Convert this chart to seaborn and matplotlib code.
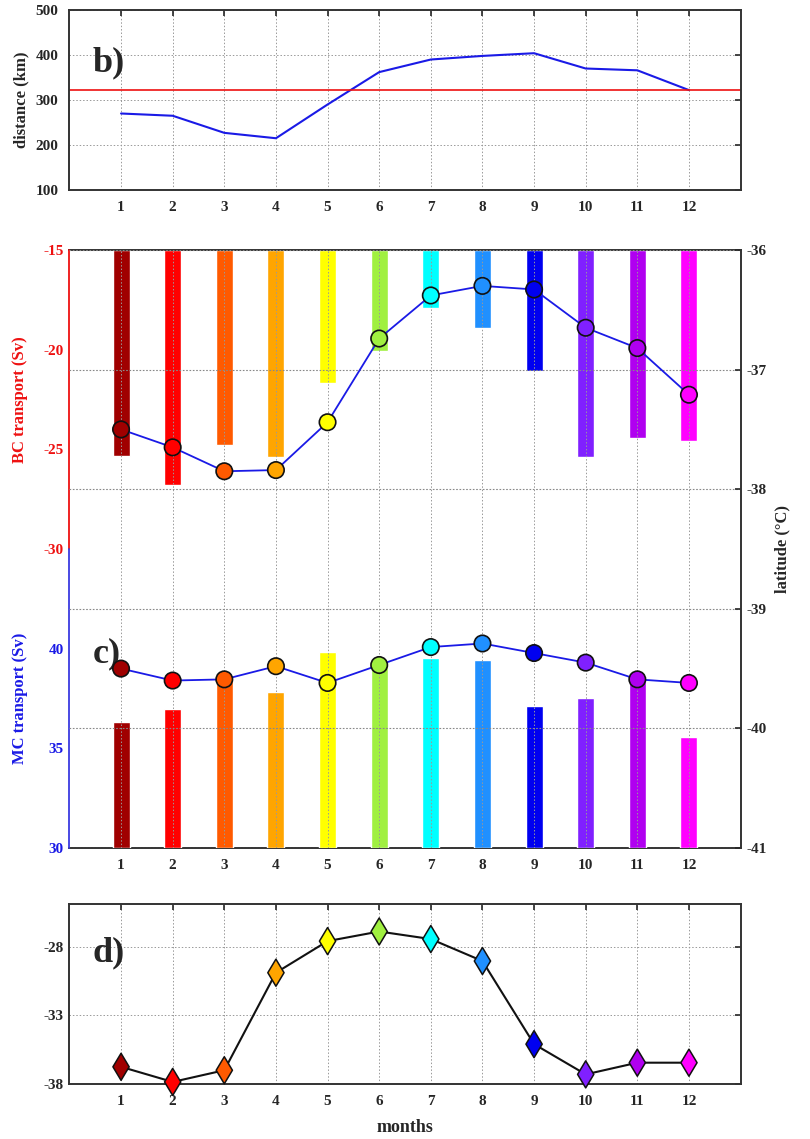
import numpy as np
import matplotlib
matplotlib.use("Agg")
import matplotlib.pyplot as plt
import seaborn as sns
import pandas as pd

# data
months = list(range(1, 13))
month_colors = ["#a00000", "#ff0000", "#ff5a00", "#ffa500", "#ffff00", "#a0f040",
                "#00ffff", "#2090ff", "#0000f0", "#8020ff", "#b000f0", "#ff00ff"]

distance_km = [270, 265, 227, 215, 290, 362, 390, 398, 404, 370, 366, 322]
distance_ref = 322

bc_transport = [-25.35, -26.8, -24.8, -25.4, -21.65, -20.05, -17.9, -18.9, -21.05, -25.4, -24.45, -24.6]
mc_transport = [36.3, 36.95, 38.65, 37.85, 39.85, 39.15, 39.55, 39.45, 37.1, 37.5, 38.5, 35.55]
bc_latitude = [-37.50, -37.65, -37.85, -37.84, -37.44, -36.74, -36.38, -36.30, -36.33, -36.65, -36.82, -37.21]
mc_latitude = [-39.50, -39.60, -39.59, -39.48, -39.62, -39.47, -39.32, -39.29, -39.37, -39.45, -39.59, -39.62]

panel_d = [-36.75, -37.85, -37.0, -29.9, -27.6, -26.9, -27.45, -29.05, -35.1, -37.3, -36.45, -36.45]

sns.set_style("white")
plt.rcParams['font.family'] = ['Liberation Serif', 'DejaVu Serif']
plt.rcParams['font.weight'] = 'bold'
plt.rcParams['axes.unicode_minus'] = False
plt.rcParams['xtick.direction'] = 'in'
plt.rcParams['ytick.direction'] = 'in'

FS = 11
RED = "#ee1111"
BLUE = "#1a1ae6"
grid_kw = dict(color="#999999", linestyle=(0, (1.5, 2)), linewidth=0.7)

fig = plt.figure(figsize=(8.10, 11.39), dpi=100)


def style_ticks(ax):
    for lab in ax.get_xticklabels() + ax.get_yticklabels():
        lab.set_fontweight('bold')
        lab.set_fontsize(FS)


# ---- panel b
ax_b = fig.add_axes([0.0857, 0.8332, 0.8286, 0.158])
df_b = pd.DataFrame({"month": months, "distance": distance_km})
sns.lineplot(data=df_b, x="month", y="distance", ax=ax_b, color=BLUE, linewidth=1.5)
ax_b.axhline(distance_ref, color=RED, linewidth=1.2)
ax_b.set_xlim(0, 13)
ax_b.set_ylim(100, 500)
ax_b.set_xticks(months)
ax_b.set_yticks([100, 200, 300, 400, 500])
ax_b.set_xlabel("")
ax_b.set_ylabel("distance (km)", fontsize=12, fontweight='bold', labelpad=4)
ax_b.grid(True, **grid_kw)
ax_b.tick_params(top=True, right=True, length=4, width=1.2, pad=8)
for s in ax_b.spines.values():
    s.set_linewidth(1.4)
    s.set_color("#333333")
ax_b.text(0.035, 0.66, "b)", transform=ax_b.transAxes, fontsize=26, fontweight='bold')
style_ticks(ax_b)

# ---- panel c
pos_c = [0.0857, 0.2555, 0.8286, 0.525]
ax_bc = fig.add_axes(pos_c)
ax_mc = fig.add_axes(pos_c, sharex=ax_bc)
ax_lat = fig.add_axes(pos_c, sharex=ax_bc)
ax_mc.patch.set_visible(False)
ax_lat.patch.set_visible(False)

bar_w = 0.33
ax_bc.bar(months, np.array(bc_transport) + 15, bottom=-15, width=bar_w, color=month_colors, zorder=1)
ax_mc.bar(months, np.array(mc_transport) - 30, bottom=30, width=bar_w, color=month_colors, zorder=1)

ax_bc.set_xlim(0, 13)
ax_bc.set_ylim(-45, -15)
ax_mc.set_ylim(30, 60)
ax_lat.set_ylim(-41, -36)

df_bc = pd.DataFrame({"month": months, "lat": bc_latitude})
df_mc = pd.DataFrame({"month": months, "lat": mc_latitude})
for d in (df_bc, df_mc):
    sns.lineplot(data=d, x="month", y="lat", ax=ax_lat, color=BLUE, linewidth=1.3, zorder=3)
    sns.scatterplot(data=d, x="month", y="lat", ax=ax_lat, hue="month", palette=month_colors,
                    s=140, edgecolor="#111111", linewidth=1.2, legend=False, zorder=4)

# left axes: BC (red, upper half), MC (blue, lower half)
ax_bc.set_yticks([-30, -25, -20, -15])
ax_bc.tick_params(axis='y', colors=RED, length=4, width=1.2, pad=4)
ax_bc.spines['left'].set_visible(False)
ax_bc.spines['right'].set_visible(False)
for k in ('top', 'bottom'):
    ax_bc.spines[k].set_color("#333333")
    ax_bc.spines[k].set_linewidth(1.4)
ax_bc.set_xticks(months)
ax_bc.tick_params(axis='x', length=4, width=1.2, pad=8, top=True)
ax_bc.set_ylabel("BC transport (Sv)", color=RED, fontsize=12, fontweight='bold')
ax_bc.yaxis.set_label_coords(-0.062, 0.75)

ax_mc.set_yticks([30, 35, 40])
ax_mc.tick_params(axis='y', colors=BLUE, length=4, width=1.2, pad=4)
ax_mc.tick_params(axis='x', bottom=False, labelbottom=False)
for k in ('top', 'bottom', 'right', 'left'):
    ax_mc.spines[k].set_visible(False)
ax_mc.set_ylabel("MC transport (Sv)", color=BLUE, fontsize=12, fontweight='bold')
ax_mc.yaxis.set_label_coords(-0.062, 0.25)

# two-colour left axis line
ax_bc.axvline(0, ymin=0.5, ymax=1.0, color=RED, linewidth=1.3, clip_on=False, zorder=6)
ax_mc.axvline(0, ymin=0.0, ymax=0.5, color="#3a3ae0", linewidth=1.3, clip_on=False, zorder=6)

ax_lat.yaxis.tick_right()
ax_lat.yaxis.set_label_position("right")
ax_lat.set_yticks([-41, -40, -39, -38, -37, -36])
ax_lat.set_xticks(months)
ax_lat.tick_params(axis='x', bottom=False, labelbottom=False)
ax_lat.tick_params(axis='y', length=4, width=1.2, pad=4)
for k in ('top', 'bottom', 'left'):
    ax_lat.spines[k].set_visible(False)
ax_lat.spines['right'].set_color("#333333")
ax_lat.spines['right'].set_linewidth(1.4)
ax_lat.set_xlabel("")
ax_lat.set_ylabel("latitude (°C)", fontsize=12, fontweight='bold', labelpad=6)
ax_lat.grid(True, axis='x', **grid_kw)
ax_lat.grid(True, axis='y', color="#888888", linestyle=(0, (1.5, 1.5)), linewidth=0.8)
ax_lat.text(0.035, 0.31, "c)", transform=ax_lat.transAxes, fontsize=26, fontweight='bold')
for a in (ax_bc, ax_mc, ax_lat):
    style_ticks(a)
for lab in ax_bc.get_yticklabels():
    lab.set_color(RED)
for lab in ax_mc.get_yticklabels():
    lab.set_color(BLUE)

# ---- panel d
ax_d = fig.add_axes([0.0857, 0.0483, 0.8286, 0.158])
df_d = pd.DataFrame({"month": months, "value": panel_d})
sns.lineplot(data=df_d, x="month", y="value", ax=ax_d, color="#111111", linewidth=1.5, zorder=3)
sns.scatterplot(data=df_d, x="month", y="value", ax=ax_d, hue="month", palette=month_colors,
                marker="d", s=190, edgecolor="#111111", linewidth=1.1, legend=False, zorder=4,
                clip_on=False)
ax_d.set_xlim(0, 13)
ax_d.set_ylim(-38, -24.9)
ax_d.set_xticks(months)
ax_d.set_yticks([-38, -33, -28])
ax_d.set_ylabel("")
ax_d.set_xlabel("months", fontsize=13, fontweight='bold', labelpad=8)
ax_d.grid(True, **grid_kw)
ax_d.tick_params(top=True, right=True, length=4, width=1.2, pad=8)
ax_d.tick_params(axis='y', pad=4)
for s in ax_d.spines.values():
    s.set_linewidth(1.4)
    s.set_color("#333333")
ax_d.text(0.035, 0.68, "d)", transform=ax_d.transAxes, fontsize=26, fontweight='bold')
style_ticks(ax_d)

fig.savefig("out.png", dpi=100)
